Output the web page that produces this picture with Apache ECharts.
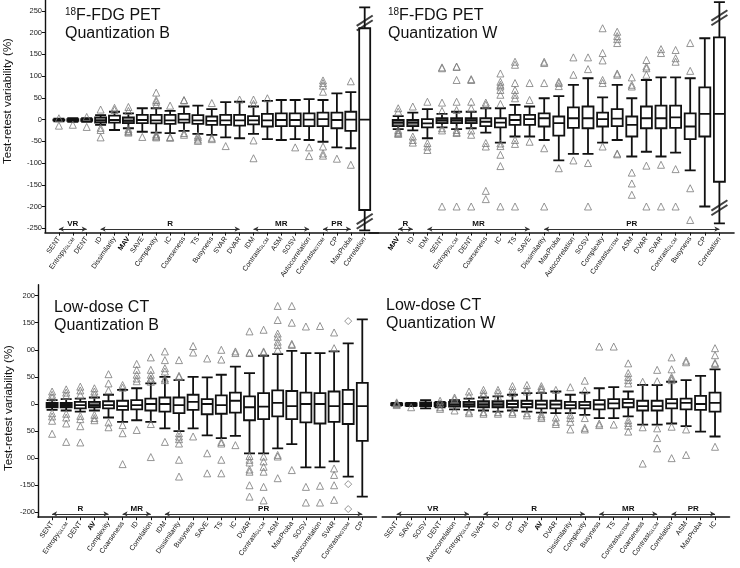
<!DOCTYPE html>
<html><head><meta charset="utf-8">
<script src="https://cdn.jsdelivr.net/npm/echarts@6/dist/echarts.min.js"></script>
<style>html,body{margin:0;padding:0;background:#fff}#c{width:740px;height:568px}</style>
</head><body><div id="c"></div>
<script>
// ---------- Top-left: 18F-FDG PET, Quantization B ----------
const tlCats = ['SENT','Entropy_GLCM','DENT','ID','Dissimilarity','MAV','SAVE','Complexity','IC','Coarseness','TS','Busyness','SVAR','DVAR','IDM','Contrast_GLCM','ASM','SOSV','Autocorrelation','Contrast_NGTDM','CP','MaxProba','Correlation'];
const tlLo  = [-4,-5,-5,-12,-24,-20,-28,-30,-31,-26,-33,-35,-41,-43,-33,-45,-47,-45,-47,-51,-64,-66,-255];
const tlQ1  = [-2,-3,-3,-7,-7,-8,-8,-9,-10,-7,-10,-12,-12,-14,-11,-16,-15,-15,-15,-15,-20,-26,-208];
const tlMed = [-1,-1,-1,-2,-1,-3,-1,-2,-2,0,-2,-3,-2,-2,-2,-2,-1,-1,0,1,-1,0,0];
const tlQ3  = [0,1,1,5,9,5,11,11,11,13,10,7,11,11,8,13,14,14,14,16,16,18,210];
const tlHi  = [2,3,3,10,18,14,26,26,20,30,32,24,40,41,30,43,45,45,47,45,60,63,258];
const tlOut = [[3,-14],[-12],[6,-17],[23,-19,-24,-41],[22,27],[29,20,-22,-26,-28,-30],[-40],[62,45,41,34,-34,-37,-39,-41],[32,-40,-42],[44,45,-31,-35],[-37,-41,-46,-49],[38,-42,-45],[-61],[46],[46,36,-48,-89],[49],[],[-64],[-64,-84],[90,84,78,64,-62,-78,-83],[-90],[88,-104],[]];
const tlBreaks = [222,-234];
const tlGroups = [['VR','SENT','DENT'],['R','ID','DVAR'],['MR','IDM','Autocorrelation'],['PR','Contrast_NGTDM','MaxProba']];
const topYTicks = [-250,-200,-150,-100,-50,0,50,100,150,200,250];

// ---------- Top-right: 18F-FDG PET, Quantization W ----------
const trCats = ['MAV','ID','IDM','SENT','Entropy_GLCM','DENT','Coarseness','IC','TS','SAVE','Dissimilarity','MaxProba','Autocorrelation','SOSV','Complexity','Contrast_NGTDM','ASM','DVAR','SVAR','Contrast_GLCM','Busyness','CP','Correlation'];
const trLo  = [-22,-25,-43,-18,-22,-20,-30,-53,-39,-39,-47,-94,-79,-79,-53,-47,-85,-74,-85,-76,-117,-200,-239];
const trQ1  = [-15,-15,-18,-8,-8,-8,-15,-18,-12,-12,-16,-37,-19,-20,-16,-15,-39,-20,-20,-19,-45,-39,-143];
const trMed = [-7,-7,-9,-2,-2,-2,-5,-7,-1,1,3,-8,3,3,1,2,-12,3,3,5,-16,13,13];
const trQ3  = [-1,-1,1,3,3,3,3,3,11,11,14,7,28,30,16,24,7,30,32,32,14,74,189];
const trHi  = [8,16,24,13,18,18,26,26,34,30,49,54,80,95,51,80,49,91,97,97,95,187,270];
const trOut = [[26,18,-24,-28,-31,-33],[30,-39,-47,-53],[41,-54,-62,-70],[118,120,39,20,-20,-25,-200],[122,121,91,41,22,-24,-29,-31,-200],[91,93,41,26,-25,-35,-200],[39,34,-54,-62,-164,-183],[106,87,80,76,68,57,36,-55,-61,-81,-107,-200],[133,126,84,68,57,49,-47,-56,-200],[84,45,-51],[133,130,84,-66,-200],[87,84,77,-112],[143,103,-94],[143,116,-100,-200],[210,153,136,91,84,-62],[202,192,185,176,106,103,-78,-80],[97,80,76,-122,-147,-173],[137,122,118,103,-106,-200],[162,153,-104,-200],[160,141,133,-114,-200],[176,112,-158,-231],[],[]];
const trBreaks = [234,-203];
const trGroups = [['R','MAV','ID'],['MR','IDM','SAVE'],['PR','Dissimilarity','Correlation']];

// ---------- Bottom-left: Low-dose CT, Quantization B ----------
const blCats = ['SENT','Entropy_GLCM','DENT','AV','Complexity','Coarseness','ID','Correlation','IDM','Dissimilarity','Busyness','SAVE','TS','IC','DVAR','Contrast_GLCM','ASM','MaxProba','SOSV','Autocorrelation','SVAR','Contrast_NGTDM','CP'];
const blLo  = [-11,-12,-14,-12,-25,-33,-30,-33,-45,-50,-45,-58,-63,-59,-91,-91,-82,-74,-117,-117,-106,-134,-171];
const blQ1  = [-6,-6,-8,-6,-8,-11,-10,-12,-14,-17,-11,-19,-18,-16,-30,-28,-23,-28,-34,-36,-33,-37,-68];
const blMed = [-2,-2,-2,-2,-2,-4,-2,0,0,-2,4,0,-2,6,-6,-5,2,-4,0,0,-4,0,-4];
const blQ3  = [2,2,4,4,5,6,7,10,12,12,17,9,16,21,14,20,25,24,21,20,23,26,39];
const blHi  = [7,9,10,12,17,26,29,38,50,44,50,49,54,69,57,89,92,98,94,94,97,112,156];
const blOut = [[23,17,12,-17,-23,-31,-55],[27,21,15,-18,-25,-36,-70],[32,25,17,-22,-28,-41,-71],[29,23,17,-20,-26,-30],[55,38,25,-34,-43],[35,30,-39,-54,-111],[74,63,54,47,42,-48],[86,63,54,47,46,41,-37,-98],[97,81,66,60,47,44,-70],[81,52,50,-54,-60,-65,-73,-103,-134],[107,95,-60],[84,-91,-128],[100,82,-70,-73,-103,-128],[97,94,-76],[134,95,94,-96,-103,-108,-121,-125,-150,-171],[137,97,95,-97,-106,-116,-125,-153,-178],[181,155,130,124,115,109,100,-94,-97,-137],[181,150,111,109,-122],[143,-153,-182],[144,-151,-182],[132,103,-119,-131,-150,-177],[],[]];
const blDiamondOut = [['Contrast_NGTDM',153],['Contrast_NGTDM',-148],['Contrast_NGTDM',-194]];
const blGroups = [['R','SENT','Complexity'],['MR','Coarseness','Correlation'],['PR','IDM','CP']];
const botYTicks = [-200,-150,-100,-50,0,50,100,150,200];
const botYTickLabels = ['-200','-150','00','50','0','50','00','150','200'];

// ---------- Bottom-right: Low-dose CT, Quantization W ----------
const brCats = ['SENT','SAVE','SOSV','DENT','Autocorrelation','Entropy_GLCM','SVAR','ID','CP','IDM','AV','DVAR','Dissimilarity','Complexity','Busyness','TS','Contrast_NGTDM','Coarseness','Contrast_GLCM','Correlation','ASM','MaxProba','IC'];
const brLo  = [-3,-4,-8,-6,-10,-11,-12,-14,-12,-14,-16,-17,-17,-20,-26,-26,-23,-38,-38,-36,-41,-51,-60];
const brQ1  = [-2,-3,-4,-4,-5,-5,-6,-6,-6,-6,-8,-8,-8,-8,-10,-8,-6,-12,-12,-8,-10,-11,-14];
const brMed = [-1,-1,-1,-1,-1,-1,-1,-1,0,0,-1,-1,-2,-2,-1,1,2,-4,-4,1,2,0,2];
const brQ3  = [1,1,3,2,4,4,5,5,6,6,6,6,4,4,7,9,9,6,6,9,10,15,21];
const brHi  = [2,2,7,4,7,10,12,14,17,20,20,23,17,21,29,31,23,35,35,41,44,52,64];
const brOut = [[3,1,0,-2],[-6],[],[6,1,-6,-9],[12,9,-12],[23,15,-14,-17],[26,20,16,-15,-18],[26,21,14,-15,-18],[33,26,20,-15,-18],[35,27,23,-17,-21],[33,29,26,-19,-23,-26],[26,-25,-33,-37],[31,-20,-26,-33,-47],[43,25,-26,-44,-47],[106,-36,-39],[106,-38],[75,57,50,44,38,-30,-35,-40,-51],[41,-43,-110],[63,42,-45,-63,-82],[86,64,50,47,44,-42,-100],[80,77,-47,-94],[],[103,90,76,74,-79]];
const brGroups = [['VR','SENT','Entropy_GLCM'],['R','SVAR','Complexity'],['MR','Busyness','Contrast_GLCM'],['PR','Correlation','IC']];

// ---------- layout / styling ----------
const FONT = 'Liberation Sans, Arial, Helvetica, sans-serif';
const panels = [
  {cats:tlCats, lo:tlLo, q1:tlQ1, med:tlMed, q3:tlQ3, hi:tlHi, out:tlOut, breaks:tlBreaks, groups:tlGroups,
   left:45, top:0, width:333.6, height:232.6, lead:1, trail:1, ymin:-260, ymax:275, ticks:topYTicks, labels:null, showY:true, arrowY:-252,
   title:'{sup|18}{m|F-FDG PET}\n{m|Quantization B}', tLeft:60, tTop:2},
  {cats:trCats, lo:trLo, q1:trQ1, med:trMed, q3:trQ3, hi:trHi, out:trOut, breaks:trBreaks, groups:trGroups,
   left:369, top:0, width:365, height:232.6, lead:2, trail:1, ymin:-260, ymax:275, ticks:topYTicks, labels:null, showY:false, arrowY:-252,
   title:'{sup|18}{m|F-FDG PET}\n{m|Quantization W}', tLeft:383, tTop:2},
  {cats:blCats, lo:blLo, q1:blQ1, med:blMed, q3:blQ3, hi:blHi, out:blOut, breaks:null, groups:blGroups,
   left:38, top:284.8, width:338.4, height:232.4, lead:1, trail:1, ymin:-209, ymax:220, ticks:botYTicks, labels:botYTickLabels, showY:true, arrowY:-203,
   title:'{m|Low-dose CT}\n{m|Quantization B}', tLeft:49, tTop:294, diamonds:blDiamondOut},
  {cats:brCats, lo:brLo, q1:brQ1, med:brMed, q3:brQ3, hi:brHi, out:brOut, breaks:null, groups:brGroups,
   left:382.2, top:284.8, width:347.3, height:232.4, lead:1, trail:1, ymin:-209, ymax:220, ticks:botYTicks, labels:null, showY:false, arrowY:-203,
   title:'{m|Low-dose CT}\n{m|Quantization W}', tLeft:381, tTop:292}
];

function catLabel(name) {
  if (!name) return '';
  if (name === 'MAV' || name === 'AV') return '{b|' + name + '}';
  const i = name.indexOf('_');
  if (i > 0) return '{n|' + name.slice(0, i) + '}{s|' + name.slice(i + 1) + '}';
  return '{n|' + name + '}';
}

const option = {animation:false, backgroundColor:'#fff', textStyle:{fontFamily:FONT},
  grid:[], xAxis:[], yAxis:[], series:[], title:[], graphic:[]};

panels.forEach((p, k) => {
  const axisCats = [];
  for (let i = 0; i < p.lead; i++) axisCats.push(' '.repeat(i));
  p.cats.forEach(c => axisCats.push(c));
  for (let i = 0; i < p.trail; i++) axisCats.push(' '.repeat(p.lead + i + 1));
  const idx = name => p.lead + p.cats.indexOf(name);
  const pxPerUnit = p.height / (p.ymax - p.ymin);

  option.grid.push({left:p.left, top:p.top, width:p.width, height:p.height, containLabel:false});
  option.xAxis.push({type:'category', gridIndex:k, data:axisCats, boundaryGap:false,
    axisLine:{onZero:false, lineStyle:{color:'#111', width:1.6}},
    axisTick:{show:true, length:3, lineStyle:{color:'#111', width:1},
      interval:(i) => i >= p.lead && i < p.lead + p.cats.length},
    axisLabel:{interval:0, rotate:55, margin:5, fontSize:7, color:'#111',
      formatter:(v) => catLabel(v.trim() ? v : ''),
      rich:{n:{fontSize:7, color:'#111', fontFamily:FONT},
            s:{fontSize:4.8, color:'#111', fontFamily:FONT, verticalAlign:'bottom'},
            b:{fontSize:7, color:'#000', fontWeight:'bold', fontFamily:FONT}}},
    splitLine:{show:false}});
  option.yAxis.push({type:'value', gridIndex:k, min:p.ymin, max:p.ymax, show:p.showY,
    axisLine:{show:true, lineStyle:{color:'#111', width:1.4}},
    axisTick:{show:true, length:3, customValues:p.ticks, lineStyle:{color:'#111'}},
    axisLabel:{customValues:p.ticks, fontSize:7.5, color:'#222', margin:3,
      formatter:(v) => p.labels ? p.labels[p.ticks.indexOf(v)] : String(v)},
    splitLine:{show:false}});

  // small boxes look filled in the reference: shade them by their drawn height
  const boxData = p.cats.map((c, i) => {
    const h = (p.q3[i] - p.q1[i]) * pxPerUnit;
    const fill = h < 4.5 ? '#1a1a1a' : (h < 6.3 ? '#8a8a8a' : '#fff');
    return {value:[p.lead + i, p.lo[i], p.q1[i], p.med[i], p.q3[i], p.hi[i]], itemStyle:{color:fill}};
  });
  option.series.push({type:'boxplot', xAxisIndex:k, yAxisIndex:k, data:boxData,
    encode:{x:0, y:[1,2,3,4,5]}, boxWidth:[11,11],
    itemStyle:{color:'#fff', borderColor:'#111', borderWidth:1.8}, z:3});

  const outData = [];
  p.out.forEach((arr, i) => arr.forEach(v => outData.push([p.lead + i, v])));
  const markData = p.groups.map(g => [
    {coord:[idx(g[1]), p.arrowY], name:g[0]},
    {coord:[idx(g[2]), p.arrowY]}]);
  option.series.push({type:'scatter', xAxisIndex:k, yAxisIndex:k, data:outData,
    symbol:'triangle', symbolSize:7,
    itemStyle:{color:'rgba(0,0,0,0)', borderColor:'#7a7a7a', borderWidth:1}, z:4,
    markLine:{silent:true, symbol:['arrow','arrow'], symbolSize:[4,5], animation:false,
      lineStyle:{color:'#333', width:1, type:'solid'},
      label:{show:true, position:'middle', formatter:'{b}', fontSize:8, fontWeight:'bold', color:'#111', distance:1, fontFamily:FONT},
      emphasis:{disabled:true}, data:markData}});

  if (p.diamonds) {
    option.series.push({type:'scatter', xAxisIndex:k, yAxisIndex:k,
      data:p.diamonds.map(d => [idx(d[0]), d[1]]), symbol:'diamond', symbolSize:7,
      itemStyle:{color:'rgba(0,0,0,0)', borderColor:'#7a7a7a', borderWidth:1}, z:4});
  }
  if (p.breaks) {
    const ci = p.lead + p.cats.length - 1;
    option.series.push({type:'scatter', xAxisIndex:k, yAxisIndex:k,
      data:p.breaks.map(v => [ci, v]), symbol:'path://M0,11L16,0M0,16L16,5', symbolSize:[16,15],
      itemStyle:{color:'none', borderColor:'#111', borderWidth:2}, z:6});
  }

  option.title.push({left:p.tLeft, top:p.tTop, text:p.title,
    textStyle:{fontFamily:FONT, color:'#111', fontWeight:'normal',
      rich:{m:{fontSize:16, lineHeight:18, color:'#111', fontFamily:FONT},
            sup:{fontSize:10, lineHeight:18, verticalAlign:'top', color:'#111', fontFamily:FONT}}}});
});

option.graphic = [
  {type:'text', x:8, y:101, rotation:Math.PI/2,
   style:{text:'Test-retest variability (%)', font:'11.5px ' + FONT, fill:'#111', align:'center', verticalAlign:'middle'}},
  {type:'text', x:8.5, y:408, rotation:Math.PI/2,
   style:{text:'Test-retest variability (%)', font:'11.5px ' + FONT, fill:'#111', align:'center', verticalAlign:'middle'}}
];

const chart = echarts.init(document.getElementById('c'), null, {renderer:'canvas'});
chart.setOption(option);
</script></body></html>
